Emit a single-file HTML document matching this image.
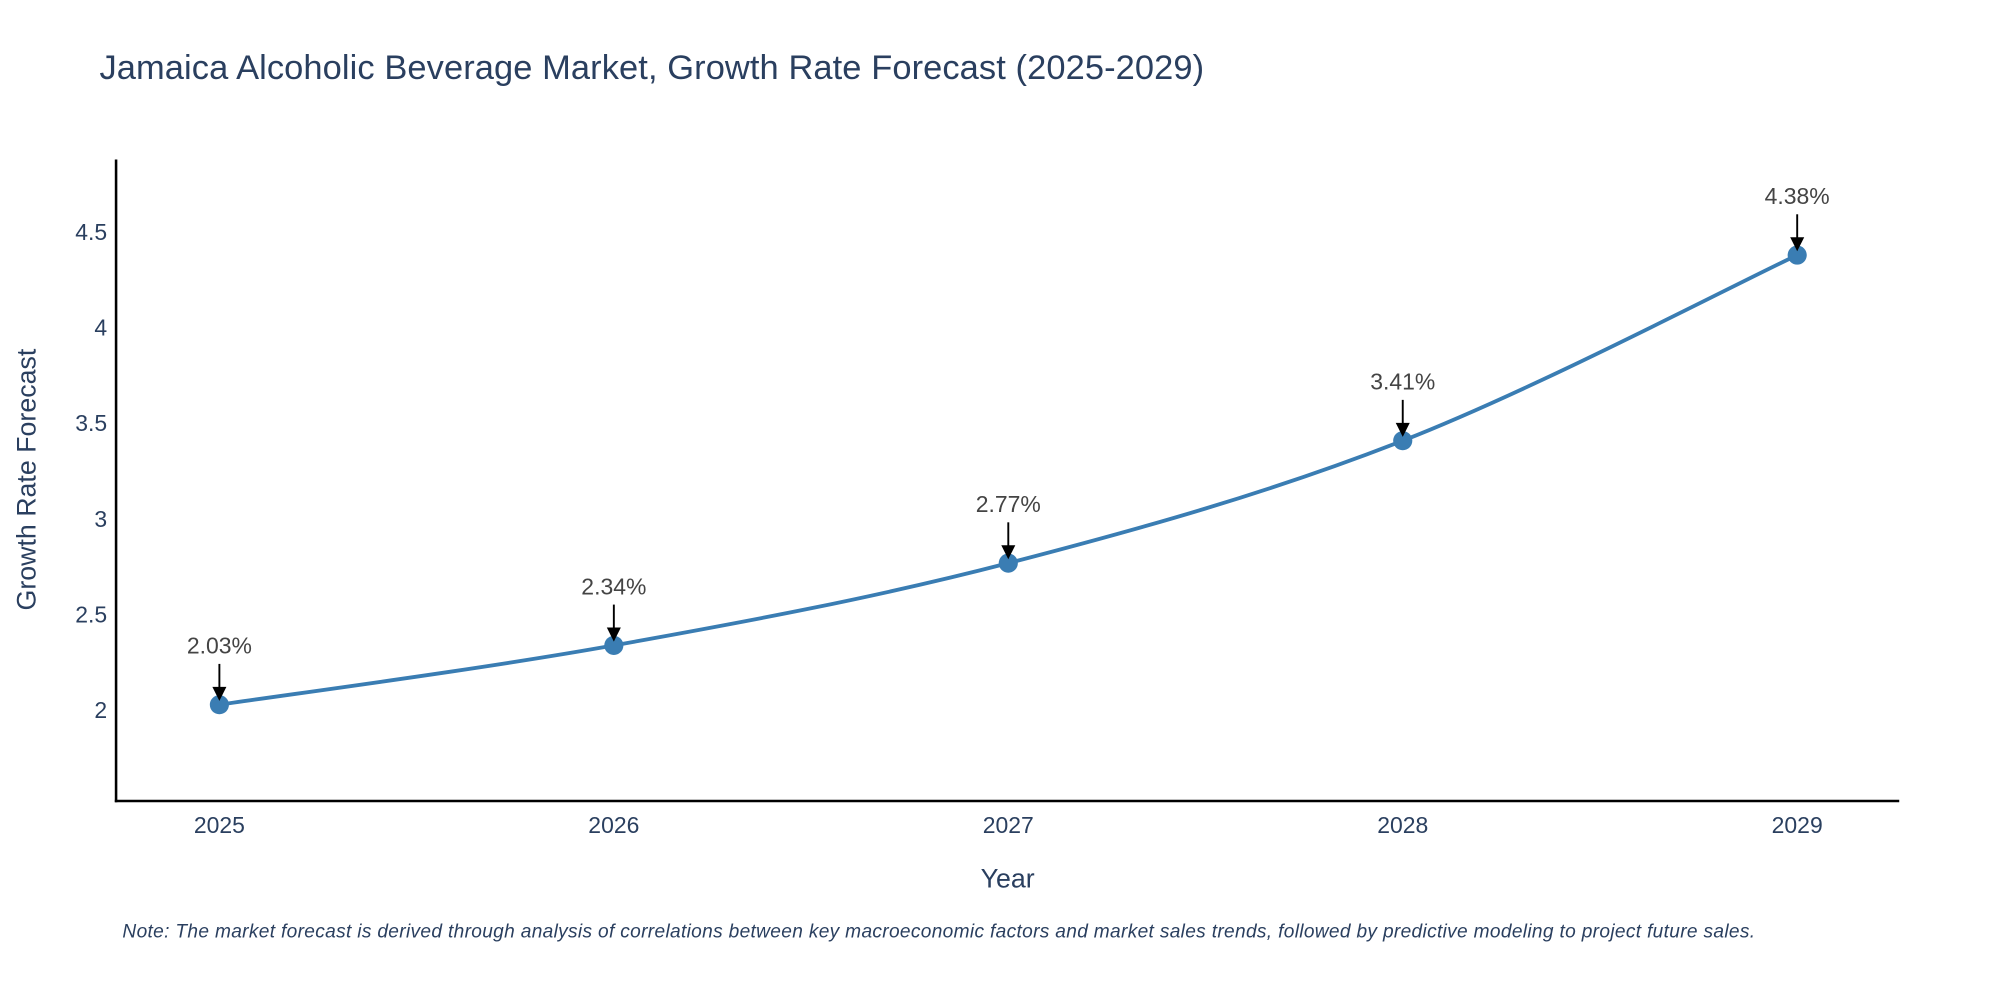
<!DOCTYPE html>
<html><head><meta charset="utf-8"><style>
html,body{margin:0;padding:0;background:#fff;}
svg{display:block;font-family:"Liberation Sans",sans-serif;}
</style></head><body>
<svg id="chart" width="2000" height="1000" viewBox="0 0 1568 784">
<text x="78" y="62" font-size="27" fill="#2a3f5f" textLength="866">Jamaica Alcoholic Beverage Market, Growth Rate Forecast (2025-2029)</text>
<g id="yticks"></g>
<g id="xticks"></g>
<path id="line" fill="none" stroke="#3a7db3" stroke-width="3"/>
<g id="points"></g>
<g id="annots"></g>
<line x1="91" y1="125" x2="91" y2="629" stroke="#000" stroke-width="2"/>
<line x1="90" y1="628" x2="1489" y2="628" stroke="#000" stroke-width="2"/>
<text x="790" y="696" font-size="21" fill="#2a3f5f" text-anchor="middle">Year</text>
<text transform="translate(28,376) rotate(-90)" font-size="21" fill="#2a3f5f" text-anchor="middle">Growth Rate Forecast</text>
<text x="96" y="735" font-size="15" font-style="italic" fill="#2a3f5f" textLength="1280">Note: The market forecast is derived through analysis of correlations between key macroeconomic factors and market sales trends, followed by predictive modeling to project future sales.</text>
</svg>
<script>
const years = [2025, 2026, 2027, 2028, 2029];
const values = [2.03, 2.34, 2.77, 3.41, 4.38];
const labels = ["2.03%", "2.34%", "2.77%", "3.41%", "4.38%"];
const yTicks = [2, 2.5, 3, 3.5, 4, 4.5];
const yTickLabels = ["2", "2.5", "3", "3.5", "4", "4.5"];

const NS = "http://www.w3.org/2000/svg";
function xs(v){ return 172 + (v - 2025) * 309.25; }
function ys(v){ return 557 - (v - 2) * 150; }
function mk(tag, attrs, parent){ const e = document.createElementNS(NS, tag); for (const k in attrs) e.setAttribute(k, attrs[k]); parent.appendChild(e); return e; }

const yt = document.getElementById('yticks');
yTicks.forEach((t, i) => {
  const e = mk('text', {x: 84, y: ys(t) + 6, 'font-size': 18, fill: '#2a3f5f', 'text-anchor': 'end'}, yt);
  e.textContent = yTickLabels[i];
  
  
});
const xt = document.getElementById('xticks');
years.forEach(y => {
  const e = mk('text', {x: xs(y), y: 653, 'font-size': 18, fill: '#2a3f5f', 'text-anchor': 'middle'}, xt);
  e.textContent = String(y);
  
  
});

const P = years.map((y, i) => [xs(y), ys(values[i])]);
let d = `M${P[0][0]},${P[0][1]}`;
for (let i = 0; i < P.length - 1; i++) {
  const p0 = P[Math.max(i - 1, 0)], p1 = P[i], p2 = P[i + 1], p3 = P[Math.min(i + 2, P.length - 1)];
  const t = 0.17;
  const c1 = [p1[0] + (p2[0] - p0[0]) * t, p1[1] + (p2[1] - p0[1]) * t];
  const c2 = [p2[0] - (p3[0] - p1[0]) * t, p2[1] - (p3[1] - p1[1]) * t];
  d += ` C${c1[0]},${c1[1]} ${c2[0]},${c2[1]} ${p2[0]},${p2[1]}`;
}
document.getElementById('line').setAttribute('d', d);

const pts = document.getElementById('points');
const an = document.getElementById('annots');
P.forEach((p, i) => {
  const c = mk('circle', {cx: p[0], cy: p[1], r: 7.5, fill: '#3a7db3'}, pts);
  
  
  const l = mk('line', {x1: p[0], y1: p[1] - 32, x2: p[0], y2: p[1] - 12, stroke: '#000', 'stroke-width': 1.5}, an);
  
  
  const h = mk('polygon', {points: `${p[0]-5.5},${p[1]-14} ${p[0]+5.5},${p[1]-14} ${p[0]},${p[1]-3}`, fill: '#000'}, an);
  
  
  const t = mk('text', {x: p[0], y: p[1] - 40, 'font-size': 18, fill: '#444', 'text-anchor': 'middle'}, an);
  t.textContent = labels[i];
  
  
});
</script>
</body></html>
